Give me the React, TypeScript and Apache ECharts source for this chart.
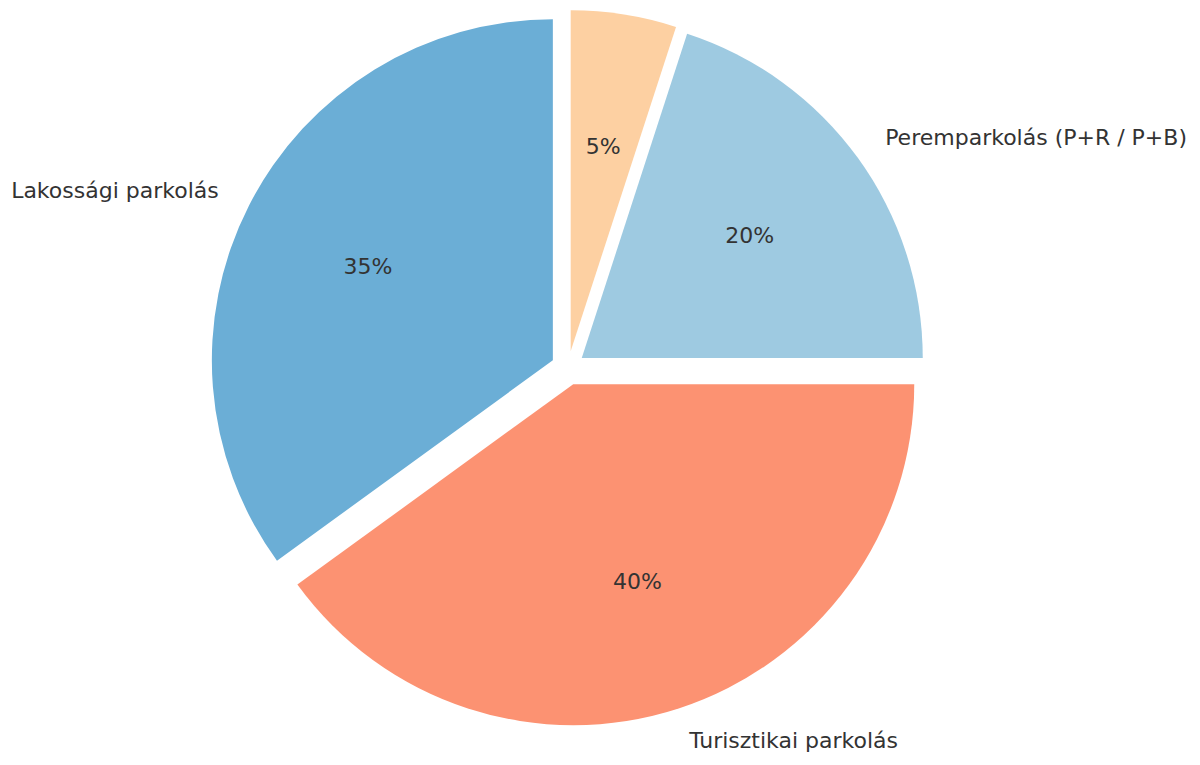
import React, { useEffect, useRef } from "react";
import * as echarts from "echarts";

const categories = ["Egyéb", "Peremparkolás (P+R / P+B)", "Turisztikai parkolás", "Lakossági parkolás"];
const values = [5, 20, 40, 35];
const colors = ["#fdd0a2", "#9ecae1", "#fc9272", "#6baed6"];
const showName = [false, true, true, true];

export default function App() {
  const ref = useRef<HTMLDivElement>(null);
  useEffect(() => {
    if (!ref.current) return;
    const chart = echarts.init(ref.current, null, { renderer: "svg" });
    const R = 341;
    const center = [568, 368];
    const font = "DejaVu Sans";
    const baseData = categories.map((c, i) => ({
      name: c,
      value: values[i],
      selected: true,
    }));
    chart.setOption({
      animation: false,
      backgroundColor: "#ffffff",
      series: [
        {
          type: "pie",
          center,
          radius: [0, R],
          startAngle: 90,
          clockwise: true,
          selectedMode: "multiple",
          selectedOffset: 17,
          avoidLabelOverlap: false,
          silent: true,
          labelLine: { show: false, length: 34, length2: 0 },
          label: {
            show: true,
            position: "outside",
            distanceToLabelLine: 0,
            fontFamily: font,
            fontSize: 22,
            color: "#333333",
            formatter: "{b}",
          },
          itemStyle: { borderWidth: 0 },
          emphasis: { disabled: true },
          data: baseData.map((d, i) => ({
            ...d,
            itemStyle: { color: colors[i] },
            label: { show: showName[i] },
          })),
        },
        {
          type: "pie",
          center,
          radius: [0, R * 1.2],
          startAngle: 90,
          clockwise: true,
          selectedMode: "multiple",
          selectedOffset: 17,
          avoidLabelOverlap: false,
          silent: true,
          labelLine: { show: false },
          label: {
            show: true,
            position: "inside",
            fontFamily: font,
            fontSize: 22,
            color: "#333333",
            formatter: (p: any) => Math.round(p.percent) + "%",
          },
          itemStyle: { color: "rgba(0,0,0,0)", borderWidth: 0 },
          emphasis: { disabled: true },
          data: baseData,
        },
      ],
    });
    return () => chart.dispose();
  }, []);
  return (
    <div
      ref={ref}
      style={{ position: "absolute", left: 0, top: 0, width: 1200, height: 765 }}
    />
  );
}
